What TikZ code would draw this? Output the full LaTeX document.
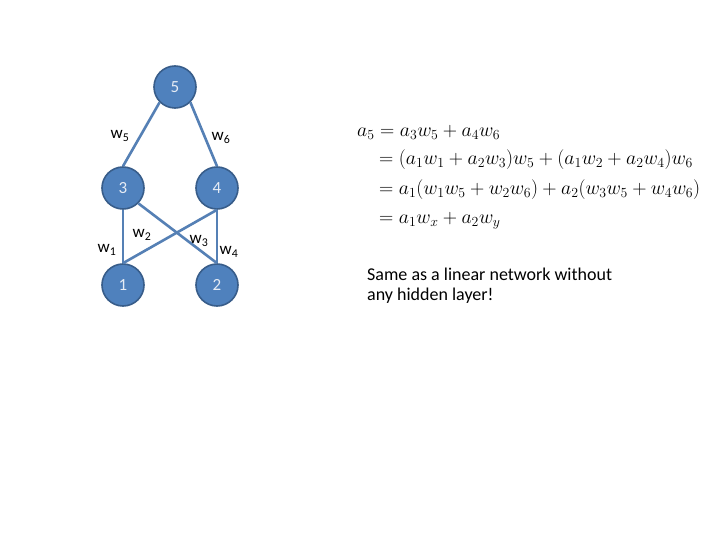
\RequirePackage{fix-cm}
\documentclass[tikz,border=0pt]{standalone}
\usepackage{fontspec}
\setmainfont{Carlito}
\usepackage{amsmath}
\begin{document}
\begin{tikzpicture}[x=1pt,y=-1pt,
  neuron/.style={circle,draw=nodeedge,line width=1.6pt,fill=nodefill,minimum size=42pt,inner sep=0pt,text=nodetext,font=\fontsize{17}{19}\selectfont},
  conn/.style={draw=linecol,line width=2.6pt},
  wlab/.style={font=\fontsize{17}{19}\selectfont,inner sep=0pt},
  eq/.style={anchor=west,inner sep=0pt,font=\fontsize{19.8}{22}\selectfont}]
\definecolor{nodefill}{HTML}{4F81BD}
\definecolor{nodeedge}{HTML}{385D8A}
\definecolor{linecol}{HTML}{5580B5}
\definecolor{nodetext}{HTML}{E6ECF5}
\useasboundingbox (0,0) rectangle (720,540);
\fill[white] (0,0) rectangle (720,540);
\node[neuron] (n5) at (175,87) {5};
\node[neuron] (n3) at (123,188) {3};
\node[neuron] (n4) at (217,188) {4};
\node[neuron] (n1) at (123,285) {1};
\node[neuron] (n2) at (217,285) {2};
\path[conn] (n5.south west) -- (n3.north);
\path[conn] (n5.south east) -- (n4.north);
\path[conn] (n1.north) -- (n3.south);
\path[conn] (n2.north) -- (n4.south);
\path[conn] (n1.north) -- (n4.south);
\path[conn] (n3.south east) -- (n2.north);
\node[wlab] (l5) at (120,136) {w$_{\text{5}}$};
\node[wlab] (l6) at (221,138) {w$_{\text{6}}$};
\node[wlab] (l2) at (142,235) {w$_{\text{2}}$};
\node[wlab] (l3) at (199,241) {w$_{\text{3}}$};
\node[wlab] (l1) at (107,250) {w$_{\text{1}}$};
\node[wlab] (l4) at (229,252) {w$_{\text{4}}$};
\node[eq] (e1) at (357,132) {$a_5 = a_3w_5 + a_4w_6$};
\node[eq] (e2) at (379,160) {$= (a_1w_1 + a_2w_3)w_5 + (a_1w_2 + a_2w_4)w_6$};
\node[eq] (e3) at (379,190) {$= a_1(w_1w_5 + w_2w_6) + a_2(w_3w_5 + w_4w_6)$};
\node[eq] (e4) at (379,221) {$= a_1w_x + a_2w_y$};
\node[anchor=north west,align=left,inner sep=0pt,font=\fontsize{18}{20}\selectfont] (txt) at (367,268) {Same as a linear network without\\any hidden layer!};
\end{tikzpicture}
\end{document}
